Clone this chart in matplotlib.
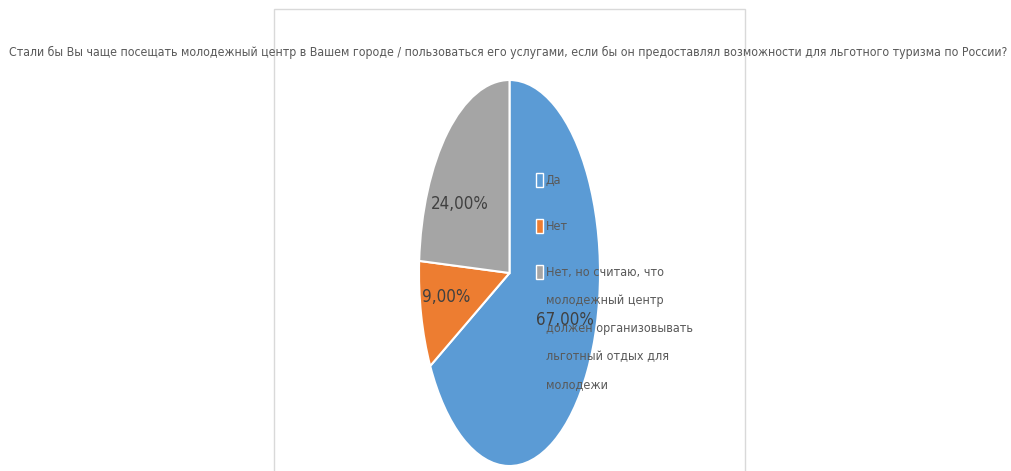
import matplotlib
matplotlib.use('Agg')
import matplotlib.pyplot as plt
from matplotlib.patches import Rectangle

title = ('Стали бы Вы чаще посещать молодежный центр в Вашем городе / пользоваться его услугами, '
         'если бы он предоставлял возможности для льготного туризма по России?')
labels = ['Да', 'Нет', 'Нет, но считаю, что\nмолодежный центр\nдолжен организовывать\nльготный отдых для\nмолодежи']
shares = [67, 9, 24]
pct_text = ['67,00%', '9,00%', '24,00%']
colors = ['#5b9bd5', '#ed7d31', '#a5a5a5']

W, H = 1011, 471
fig = plt.figure(figsize=(W / 100, H / 100), dpi=100)

# chart frame
fig.patches.append(Rectangle((274 / W, -0.01), (745 - 274) / W, (471 - 9) / H + 0.01,
                             transform=fig.transFigure, fill=False, edgecolor='#d9d9d9', lw=1))

fam = ['DejaVu Sans']
txt = dict(family=fam, stretch='condensed')
fig.text(508 / W, 1 - 52 / H, title, ha='center', va='center', color='#595959',
         fontsize=8.8, **txt)

ax = fig.add_axes([419 / W, 5 / H, 181 / W, 386 / H])
wedges, _ = ax.pie(shares, colors=colors, startangle=90, counterclock=False,
                   wedgeprops=dict(edgecolor='white', linewidth=1.5))
ax.set_aspect('auto')
ax.set_xlim(-1, 1)
ax.set_ylim(-1, 1)
ax.axis('off')

pos = [(0.61, -0.245), (-0.70, -0.125), (-0.55, 0.355)]
for t, (x, y) in zip(pct_text, pos):
    ax.text(x, y, t, ha='center', va='center', fontsize=12.2, color='#404040', **txt)

# legend drawn by hand so the marker sits on the first line of each entry
tops = [173, 219, 265]
for lab, c, top in zip(labels, colors, tops):
    fig.patches.append(Rectangle((536 / W, 1 - (top + 14) / H), 7 / W, 14 / H,
                                 transform=fig.transFigure, facecolor=c,
                                 edgecolor='white', lw=1, zorder=5))
    fig.text(546 / W, 1 - (top + 1) / H, lab, ha='left', va='top', color='#595959',
             fontsize=9.0, linespacing=2.5, zorder=6, **txt)

fig.savefig('out.png', dpi=100)
